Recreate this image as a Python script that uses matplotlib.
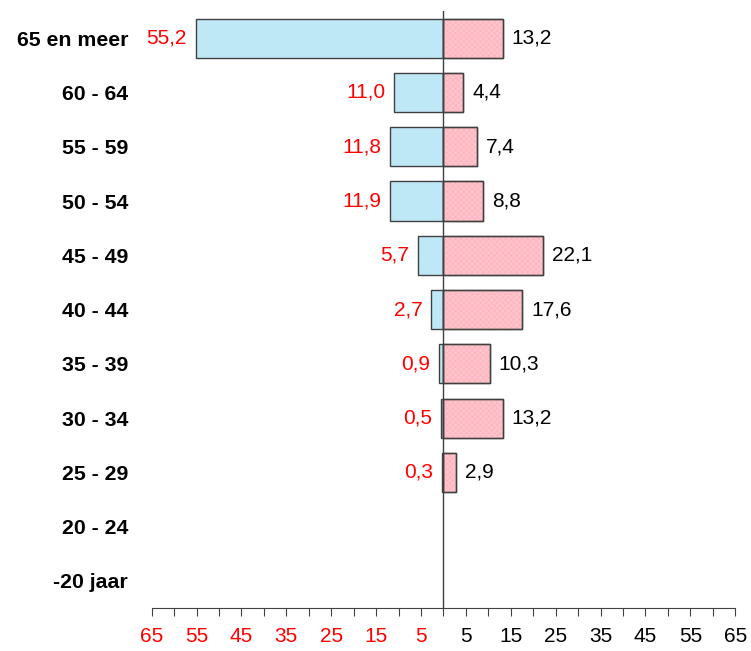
import matplotlib
matplotlib.use("Agg")
import numpy as np
from matplotlib import pyplot as plt

plt.rcParams['font.family'] = ['Liberation Sans', 'DejaVu Sans']
plt.rcParams['hatch.linewidth'] = 0.3

# age groups, top to bottom
groups = ["65 en meer", "60 - 64", "55 - 59", "50 - 54", "45 - 49", "40 - 44",
          "35 - 39", "30 - 34", "25 - 29", "20 - 24", "-20 jaar"]
left_vals = [55.2, 11.0, 11.8, 11.9, 5.7, 2.7, 0.9, 0.5, 0.3, None, None]
right_vals = [13.2, 4.4, 7.4, 8.8, 22.1, 17.6, 10.3, 13.2, 2.9, None, None]

tick_vals = np.arange(-65, 66, 5)
label_vals = [-65, -55, -45, -35, -25, -15, -5, 5, 15, 25, 35, 45, 55, 65]

fig = plt.figure(figsize=(7.51, 6.51), dpi=100)
ax = fig.add_axes([0.202, 0.066, 0.777, 0.917])

y = np.arange(len(groups))
lv = np.array([v if v is not None else 0 for v in left_vals])
rv = np.array([v if v is not None else 0 for v in right_vals])
has = np.array([v is not None for v in left_vals])

h = 0.72
ax.barh(y[has], -lv[has], height=h, color="#bfe8f7", edgecolor="#404040", linewidth=1)
ax.barh(y[has], rv[has], height=h, color="#ffc4cc", edgecolor="#404040", linewidth=1)
# fine dotted texture on the pink bars
ax.barh(y[has], rv[has], height=h, color="none", edgecolor="#ffa8b4", hatch="xxxxxx", linewidth=0)
ax.barh(y[has], rv[has], height=h, color="none", edgecolor="#404040", linewidth=1)

fs = 15
for i in y[has]:
    ax.text(-lv[i] - 2.0, i, f"{lv[i]:.1f}".replace(".", ","), color="red",
            ha="right", va="center", fontsize=fs)
    ax.text(rv[i] + 2.0, i, f"{rv[i]:.1f}".replace(".", ","), color="black",
            ha="left", va="center", fontsize=fs)

ax.axvline(0, color="#404040", linewidth=1)

ax.set_xlim(-65, 65)
ax.set_ylim(len(groups) - 0.5, -0.5)

ax.set_yticks(y)
ax.set_yticklabels(groups, fontsize=15.3, fontweight="bold")
ax.tick_params(axis="y", length=0, pad=17)

ax.set_xticks(tick_vals)
ax.set_xticklabels(["" for _ in tick_vals])
ax.tick_params(axis="x", length=6, color="#404040", direction="out")
for v in label_vals:
    ax.text(v, -0.032, str(abs(v)), transform=ax.get_xaxis_transform(),
            ha="center", va="top", fontsize=fs,
            color="red" if v < 0 else "black")

for s in ["left", "top", "right"]:
    ax.spines[s].set_visible(False)
ax.spines["bottom"].set_color("#404040")

fig.savefig("out.png", dpi=100)
